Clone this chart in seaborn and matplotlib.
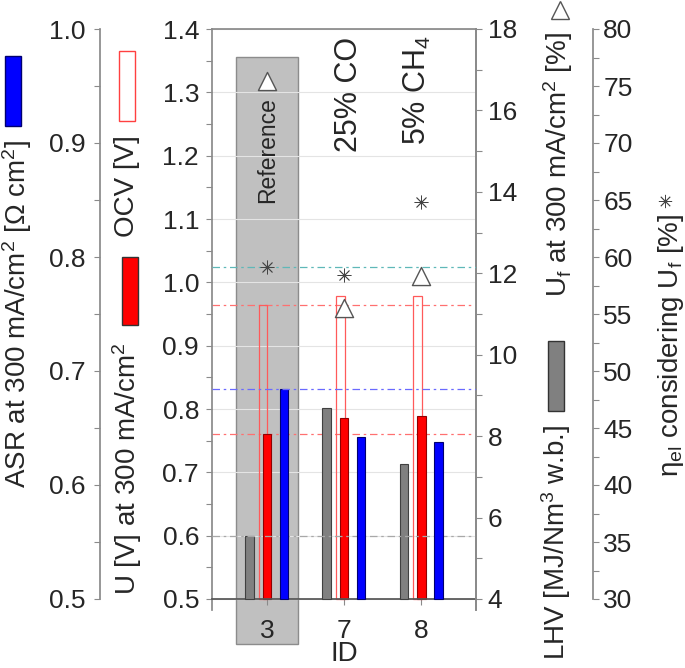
import matplotlib
matplotlib.use("Agg")
import matplotlib.pyplot as plt
import numpy as np
import seaborn as sns
from matplotlib.patches import Rectangle
from matplotlib.lines import Line2D
from matplotlib.ticker import MultipleLocator, FormatStrFormatter

# data
ids = ["3", "7", "8"]
lhv = [5.55, 8.68, 7.32]          # MJ/Nm3 w.b. (right axis, grey bars)
u_300 = [0.760, 0.786, 0.789]     # V at 300 mA/cm2 (red bars)
ocv = [0.964, 0.979, 0.979]       # V (hollow red bars)
asr = [0.684, 0.642, 0.638]       # Ohm cm2 (blue bars)
uf = [16.72, 11.14, 11.94]        # % (triangles)
eta = [59.15, 58.42, 64.85]       # % (asterisks)
notes = ["25% CO", "5% CH$_4$"]

sns.set_theme(style="ticks")
plt.rcParams["font.family"] = ["Liberation Sans", "DejaVu Sans"]
plt.rcParams["mathtext.fontset"] = "custom"
plt.rcParams["mathtext.rm"] = "Liberation Sans"
plt.rcParams["mathtext.it"] = "Liberation Sans:italic"
plt.rcParams["mathtext.bf"] = "Liberation Sans:bold"

W, H = 685, 668
spine_c = "#8a8a8a"
tick_fs = 19
lab_fs = 20
dash = (0, (6, 3, 2, 3))

fig = plt.figure(figsize=(W / 100, H / 100), dpi=100)
ax = fig.add_axes([212 / W, 58 / H, 264 / W, 581 / H])
ax_uf = ax.twinx()
ax_asr = ax.twinx()
ax_eta = ax.twinx()

x = np.arange(len(ids))
bw = 0.113

# reference band behind ID 3 (below grid and ticks)
band = Rectangle((-0.405, 0.429), 0.81, 1.3553 - 0.429, facecolor="#c0c0c0",
                 edgecolor="#8c8c8c", lw=1, zorder=0.3, clip_on=False)
ax.add_patch(band)
ax.text(0.013, 1.209, "Reference", rotation=90, ha="center", va="center",
        fontsize=16.5, zorder=3)
ax.text(1.06, 1.388, notes[0], rotation=90, ha="center", va="top", fontsize=22)
ax.text(1.944, 1.39, notes[1], rotation=90, ha="center", va="top", fontsize=22)

# voltage bars (main axis)
ax.bar(x - 0.05, np.array(ocv) - 0.5, bw, bottom=0.5, facecolor="none",
       edgecolor="#ff5a5a", lw=0.9, zorder=2)
ax.bar(x, np.array(u_300) - 0.5, bw, bottom=0.5, color="#ff0000",
       edgecolor="#900000", lw=0.8, zorder=2.2)
ax.axhline(ocv[0], color="#ff7070", lw=0.9, ls=dash, zorder=1.5)
ax.axhline(u_300[0], color="#ff7070", lw=0.9, ls=dash, zorder=1.5)

# LHV bars and fuel utilisation (right axis)
ax_uf.bar(x - 0.224, np.array(lhv) - 4, bw, bottom=4, color="#808080",
          edgecolor="#404040", lw=0.8)
ax_uf.axhline(lhv[0], color="#a8a8a8", lw=0.9, ls=dash)
sns.scatterplot(x=x, y=uf, ax=ax_uf, marker="^", s=170, color="white",
                edgecolor="#555555", linewidth=1, zorder=5, legend=False)

# ASR bars
ax_asr.bar(x + 0.22, np.array(asr) - 0.5, bw, bottom=0.5, color="#0000ff",
           edgecolor="#000070", lw=0.8)
ax_asr.axhline(asr[0], color="#6a6aff", lw=0.9, ls=dash)

# efficiency
ax_eta.axhline(eta[0], color="#5fb8b8", lw=0.9, ls=dash)
sns.scatterplot(x=x, y=eta, ax=ax_eta, marker=(8, 2, 0), s=90, color="#444444",
                linewidth=0.6, zorder=5, legend=False)

# limits
ax.set_xlim(-0.711, 2.708)
ax.set_ylim(0.5 - 11 * 0.9 / 570, 1.4)
ax_uf.set_ylim(4 - 11 * 14 / 570, 18)
ax_asr.set_ylim(0.5 - 11 * 0.5 / 570, 1.0)
ax_eta.set_ylim(30 - 11 * 50 / 570, 80)

# main axis styling
ax.set_xticks(x, ids)
ax.set_yticks(np.arange(0.5, 1.41, 0.1))
ax.yaxis.set_major_formatter(FormatStrFormatter("%.1f"))
ax.yaxis.set_minor_locator(MultipleLocator(0.05))
ax.set_axisbelow(True)
ax.yaxis.grid(True, color="#e4e4e4", lw=0.8)
ax.spines["bottom"].set_position(("data", 0.5))
ax.spines["bottom"].set_color("#555555")
for s in ["left", "right", "top"]:
    ax.spines[s].set_color(spine_c)
ax.tick_params(axis="y", which="both", length=4.3, width=0.8, color=spine_c,
               labelsize=tick_fs, pad=5)
ax.tick_params(axis="x", length=4.3, width=0.8, color=spine_c,
               labelsize=tick_fs, pad=10)

for a in [ax_uf, ax_asr, ax_eta]:
    for s in a.spines.values():
        s.set_visible(False)
    a.set_ylabel("")
    a.tick_params(axis="y", which="both", length=4.3, width=0.8, color=spine_c,
                  labelsize=tick_fs, pad=4)

ax_uf.spines["right"].set_visible(True)
ax_uf.spines["right"].set_color(spine_c)
ax_uf.set_yticks(np.arange(4, 19, 2))
ax_uf.yaxis.set_minor_locator(MultipleLocator(1))

ax_asr.yaxis.tick_left()
ax_asr.spines["left"].set_visible(True)
ax_asr.spines["left"].set_color(spine_c)
ax_asr.spines["left"].set_position(("axes", (100 - 212) / 264))
ax_asr.spines["left"].set_bounds(0.5, 1.0)
ax_asr.set_yticks(np.arange(0.5, 1.01, 0.1))
ax_asr.yaxis.set_major_formatter(FormatStrFormatter("%.1f"))
ax_asr.yaxis.set_minor_locator(MultipleLocator(0.05))
ax_asr.tick_params(axis="y", which="both", pad=6)

ax_eta.spines["right"].set_visible(True)
ax_eta.spines["right"].set_color(spine_c)
ax_eta.spines["right"].set_position(("axes", (593 - 212) / 264))
ax_eta.spines["right"].set_bounds(30, 80)
ax_eta.set_yticks(np.arange(30, 81, 5))
ax_eta.yaxis.set_minor_locator(MultipleLocator(2.5))
ax_eta.tick_params(axis="y", which="both", pad=3)


# axis labels and legend keys placed in figure pixels
def ftext(px, py, s, **kw):
    fig.text(px / W, 1 - py / H, s, ha="center", va="center", fontsize=lab_fs, **kw)


def fbox(x0, y0, x1, y1, **kw):
    fig.add_artist(Rectangle((x0 / W, 1 - y1 / H), (x1 - x0) / W, (y1 - y0) / H,
                             transform=fig.transFigure, lw=1, **kw))


ftext(344, 654, "ID")
ftext(17, 314, "ASR at 300 mA/cm$^2$ [Ω cm$^2$]", rotation=90)
ftext(127, 186, "OCV [V]", rotation=90)
ftext(127, 469, "U [V] at 300 mA/cm$^2$", rotation=90)
ftext(558, 164, "U$_\\mathrm{f}$ at 300 mA/cm$^2$ [%]", rotation=90)
ftext(556, 542, "LHV [MJ/Nm$^3$ w.b.]", rotation=90)
ftext(671, 345, "η$_\\mathrm{el}$ considering U$_\\mathrm{f}$ [%]", rotation=90)

fbox(5, 56, 21, 126, facecolor="#0000ff", edgecolor="#000070")
fbox(119, 51, 135, 121, facecolor="white", edgecolor="#ff4040")
fbox(122, 257, 138, 325, facecolor="#ff0000", edgecolor="#333333")
fbox(548, 341, 564, 411, facecolor="#808080", edgecolor="#333333")

fig.add_artist(Line2D([559.5 / W], [1 - 10 / H], marker="^", markersize=13,
                      markerfacecolor="white", markeredgecolor="#555555",
                      markeredgewidth=1, transform=fig.transFigure))
fig.add_artist(Line2D([665 / W], [1 - 201 / H], marker=(8, 2, 0), markersize=9.5,
                      color="#444444", markeredgewidth=0.6,
                      transform=fig.transFigure))

fig.savefig("out.png", dpi=100)
